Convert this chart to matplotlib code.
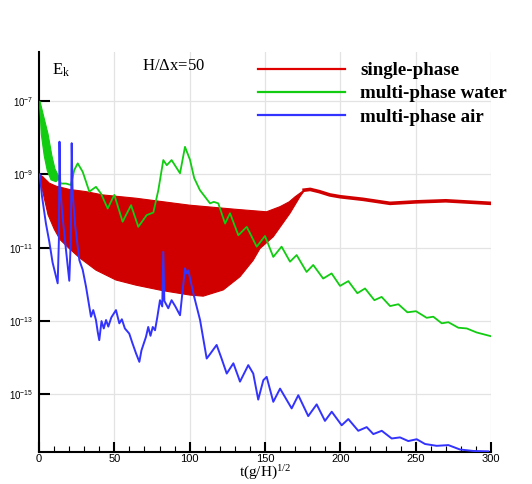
import numpy as np
import matplotlib
matplotlib.use('Agg')
import matplotlib.pyplot as plt
from matplotlib.ticker import MultipleLocator, NullLocator, FixedLocator

plt.rcParams['mathtext.default'] = 'regular'

# single-phase: fast oscillating band (upper / lower envelope, log10 Ek), then a single line
red_up_t = [0, 2.4, 6.9, 11.3, 20.1, 31.2, 42.3, 64.4, 100, 130, 151, 160, 166, 170, 176]
red_up_e = [-9.0, -9.06, -9.24, -9.32, -9.41, -9.47, -9.56, -9.65, -9.84, -9.95, -10.02, -9.88, -9.75, -9.61, -9.43]
red_lo_t = [0, 1.3, 3.5, 6, 10.2, 14, 19, 26.8, 37.8, 51.1, 64.4, 82.1, 100.2, 109, 122.3, 133.4,
            142.2, 146.7, 155.5, 166.6, 173.2, 176]
red_lo_e = [-9.0, -9.25, -9.65, -10.1, -10.5, -10.78, -10.98, -11.27, -11.61, -11.88, -12.02,
            -12.17, -12.29, -12.32, -12.15, -11.79, -11.34, -11.02, -10.70, -10.06, -9.61, -9.45]
red_t = [176, 180, 186, 193, 200, 215, 233, 250, 270, 300]
red_e = [-9.43, -9.41, -9.47, -9.56, -9.61, -9.68, -9.79, -9.75, -9.72, -9.79]

# multi-phase water: early oscillating band, then a line
grn_up_t = [0.6, 3, 6, 8.6, 10.6, 13]
grn_up_e = [-7.0, -7.4, -7.9, -8.5, -8.85, -9.05]
grn_lo_t = [0.6, 1.5, 3.5, 5.5, 8, 11.3, 13]
grn_lo_e = [-7.2, -7.9, -8.5, -8.9, -9.15, -9.2, -9.12]
grn_t = [13, 14.6, 17.9, 21.2, 23.4, 25.7, 29, 33.4, 37.8, 41.1, 45.6, 50, 55.5, 61.1, 65.9,
         71.5, 75.9, 79.2, 82.5, 84.8, 88, 93.6, 96.9, 100.2, 103, 106.8, 113.5, 116, 119,
         123.5, 126.8, 132.3, 137.9, 144.5, 150, 155.5, 161, 166.6, 171, 177.6, 182, 188.6,
         194.2, 199.8, 205.3, 211.3, 216.4, 222.6, 227.4, 233, 238.5, 244.5, 250.2, 257.3,
         261.7, 267.3, 271.7, 278.3, 283.9, 290.5, 299.8]
grn_e = [-9.12, -9.25, -9.25, -9.29, -8.88, -8.70, -8.93, -9.47, -9.34, -9.52, -9.93, -9.56,
         -10.29, -9.84, -10.43, -10.11, -10.04, -9.43, -8.61, -8.75, -8.61, -8.97, -8.25,
         -8.6, -9.1, -9.43, -9.79, -9.75, -9.79, -10.34, -10.06, -10.66, -10.43, -10.97,
         -10.68, -11.25, -10.97, -11.38, -11.2, -11.66, -11.47, -11.84, -11.70, -12.04,
         -11.91, -12.24, -12.11, -12.43, -12.34, -12.59, -12.54, -12.76, -12.73, -12.91,
         -12.88, -13.06, -13.03, -13.18, -13.20, -13.31, -13.41]

# multi-phase air
blu_t = [0.5, 2, 4.6, 6.9, 9, 12.4, 13.2, 13.6, 14.1, 15.5, 17.5, 20.1, 21.1, 21.7, 22.3, 24,
         26.8, 29, 31.2, 34.5, 36, 37.8, 39, 40, 41.5, 43, 44.5, 46, 48, 51.1, 53.3, 55, 57,
         59.9, 62, 64.4, 66.6, 68, 71, 72.5, 74, 75.5, 77, 78.5, 80.3, 81.8, 82.5, 83.2, 85.8,
         88, 90.5, 93.6, 96.9, 98, 99.1, 102.4, 106.9, 111.3, 113.5, 117.9, 121, 124.6, 129,
         132.3, 133.4, 138.9, 142.2, 145.5, 148.9, 151.1, 155.5, 160, 167.7, 172.1, 178.7,
         184.3, 189.8, 194.3, 200.9, 205.3, 211.9, 217.5, 221.9, 227.5, 234.1, 239.6, 245.1,
         250.7, 256.2, 264, 271.7, 279.4, 288.2, 298.2]
blu_e = [-9.0, -9.6, -10.34, -10.85, -11.4, -11.97, -10.8, -8.11, -9.4, -10.1, -10.9, -11.9,
         -10.8, -8.15, -9.5, -10.4, -11.34, -11.6, -12.06, -12.88, -12.7, -12.97, -13.3,
         -13.52, -13.0, -13.2, -12.97, -13.15, -12.9, -12.7, -13.06, -12.95, -13.2, -13.34,
         -13.6, -13.88, -14.11, -13.8, -13.43, -13.16, -13.4, -13.16, -13.25, -12.9, -12.43,
         -12.6, -11.11, -12.45, -12.65, -12.43, -12.6, -12.84, -11.56, -11.7, -11.62, -12.24,
         -12.97, -14.02, -13.9, -13.65, -14.0, -14.43, -14.15, -14.52, -14.65, -14.2, -14.43,
         -15.14, -14.61, -14.52, -15.2, -14.84, -15.38, -15.02, -15.59, -15.27, -15.72,
         -15.47, -15.84, -15.67, -15.99, -15.89, -16.08, -15.99, -16.2, -16.17, -16.27,
         -16.22, -16.35, -16.4, -16.38, -16.5, -16.54, -16.55]

ytick_exp = [-7, -9, -11, -13, -15]
labels = ['single-phase', 'multi-phase water', 'multi-phase air']
c_red, c_grn, c_blu = '#d00000', '#11cc11', '#3333ff'

fig = plt.figure(figsize=(5.32, 4.84), dpi=100)
ax = fig.add_axes([39 / 532, 32.3 / 484, 452 / 532, 400 / 484])
ax.set_yscale('log')

# red band + line
ax.fill(np.r_[red_up_t, red_lo_t[::-1]], 10.0 ** np.r_[red_up_e, red_lo_e[::-1]],
        color=c_red, lw=0.8, zorder=2)
ax.plot(red_t, 10.0 ** np.array(red_e), color=c_red, lw=2.6, zorder=2)

# green band + line
ax.fill(np.r_[grn_up_t, grn_lo_t[::-1]], 10.0 ** np.r_[grn_up_e, grn_lo_e[::-1]],
        color=c_grn, lw=0.8, zorder=3)
ax.plot(grn_t, 10.0 ** np.array(grn_e), color=c_grn, lw=1.3, zorder=3)

# blue line
ax.plot(blu_t, 10.0 ** np.array(blu_e), color=c_blu, lw=1.4, zorder=4)

ax.set_xlim(0, 300)
ax.set_ylim(10 ** -16.56, 10 ** -5.656)

ax.xaxis.set_major_locator(MultipleLocator(50))
ax.xaxis.set_minor_locator(MultipleLocator(10))
ax.yaxis.set_major_locator(FixedLocator([10.0 ** e for e in ytick_exp]))
ax.yaxis.set_minor_locator(NullLocator())
ax.set_yticklabels([r'$10^{%d}$' % e for e in ytick_exp], fontsize=7, family='Liberation Sans')
for lab in ax.get_xticklabels():
    lab.set_family('Liberation Sans')
    lab.set_fontsize(8)

ax.tick_params(which='major', direction='in', length=7, width=1.5, pad=4)
ax.tick_params(which='minor', direction='in', length=4, width=0.8)
ax.tick_params(axis='y', which='major', length=8)
ax.tick_params(axis='x', which='major', pad=2)

for s in ['top', 'right']:
    ax.spines[s].set_visible(False)
for s in ['left', 'bottom']:
    ax.spines[s].set_linewidth(1.5)

ax.grid(True, which='major', color='#e3e3e3', lw=0.9)
ax.set_axisbelow(True)

# x label placed directly so it sits just above the bottom edge
fig.text(265 / 532, 2 / 484, r'$t(g/H)^{1/2}$', family='Liberation Serif', fontsize=11,
         ha='center', va='bottom')

fig.text(52 / 532, 1 - 70 / 484, r'$E_k$', family='Liberation Serif', fontsize=12, va='center')
fig.text(173 / 532, 1 - 66 / 484, r'$H/\Delta x$=50', family='Liberation Serif', fontsize=12,
         ha='center', va='center')

handles = [plt.Line2D([], [], color=c, lw=1.6) for c in ['#e00000', '#11cc11', '#3333ff']]
ax.legend(handles, labels, loc='upper left', bbox_to_anchor=(258 / 532, 1 - 62 / 484),
          bbox_transform=fig.transFigure, frameon=False, borderpad=0, borderaxespad=0,
          handlelength=4.6, handletextpad=0.8, labelspacing=0.32,
          prop={'family': 'Liberation Serif', 'weight': 'bold', 'size': 13.6})

fig.savefig('out.png', dpi=100)
